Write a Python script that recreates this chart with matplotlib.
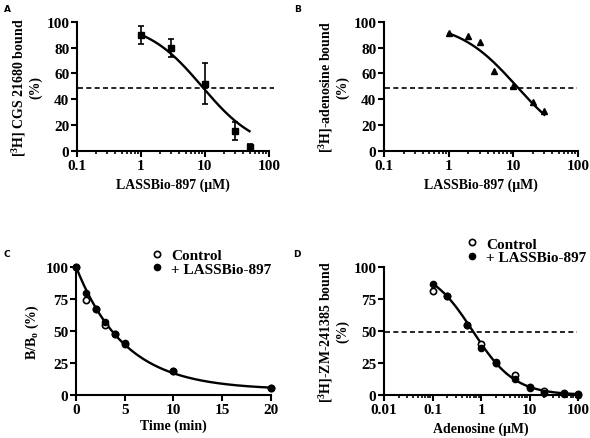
import numpy as np
import matplotlib.pyplot as plt

plt.rcParams['font.family'] = 'Liberation Serif'
plt.rcParams['font.weight'] = 'bold'
plt.rcParams['axes.labelweight'] = 'bold'
plt.rcParams['mathtext.fontset'] = 'custom'
plt.rcParams['mathtext.rm'] = 'Liberation Serif:bold'
plt.rcParams['mathtext.bf'] = 'Liberation Serif:bold'
plt.rcParams['mathtext.it'] = 'Liberation Serif:bold'

# Panel A: [3H] CGS 21680 displacement
a_conc = [1, 3, 10, 30, 50]
a_bound = [90, 80, 52, 15.5, 3]
a_err = [7, 7, 16, 7, 2]
a_ic50, a_hill = 9.0, 1.0

# Panel B: [3H]-adenosine displacement
b_conc = [1, 2, 3, 5, 10, 20, 30]
b_bound = [91, 89, 84, 62, 50, 38, 31]
b_ic50, b_hill = 11.2, 0.96

# Panel C: dissociation kinetics
c_time = [0, 1, 2, 3, 4, 5, 10, 20]
c_control = [100, 74, 67, 55, 47.5, 40, 19, 5.5]
c_lassbio = [100, 79.5, 67, 57, 47.5, 40.5, 19, 5.5]
c_plateau, c_k = 4.0, 0.2

# Panel D: adenosine competition for [3H]-ZM-241385
d_conc = [0.1, 0.2, 0.5, 1, 2, 5, 10, 20, 50, 100]
d_control = [81, 77, 55, 40, 25, 16, 6, 3, 1.5, 0.5]
d_lassbio = [87, 77, 55, 37, 25.5, 12.5, 5.5, 1.5, 1, 0]
d_ic50, d_hill = 0.67, 1.0

FS = 11   # ticks and legend
LS = 10   # axis labels

fig = plt.figure(figsize=(5.9, 4.39), dpi=100)
axA = fig.add_axes([0.1305, 0.654, 0.325, 0.294])
axB = fig.add_axes([0.651, 0.654, 0.329, 0.294])
axC = fig.add_axes([0.129, 0.098, 0.330, 0.2915])
axD = fig.add_axes([0.651, 0.098, 0.329, 0.2915])


def style(ax):
    for s in ['top', 'right']:
        ax.spines[s].set_visible(False)
    for s in ['left', 'bottom']:
        ax.spines[s].set_linewidth(1.5)
    ax.tick_params(which='major', direction='out', length=4, width=1.5,
                   labelsize=FS, pad=1.5)
    ax.tick_params(which='minor', direction='out', length=2.5, width=1.2)


def logistic(x, ic50, hill):
    return 100 / (1 + (x / ic50) ** hill)


# A
xs = np.logspace(np.log10(a_conc[0]), np.log10(a_conc[-1]), 200)
axA.plot(xs, logistic(xs, a_ic50, a_hill), color='black', lw=1.7)
axA.errorbar(a_conc, a_bound, yerr=a_err, fmt='s', color='black', ms=4.5,
             capsize=2.5, elinewidth=1.2, capthick=1.2, clip_on=False)
axA.plot([0.105, 120], [49, 49], color='black', ls='--', lw=1.2, dashes=(3, 2), clip_on=False)
axA.set_xscale('log')
axA.set_xlim(0.1, 100)
axA.set_ylim(0, 100)
axA.set_yticks([0, 20, 40, 60, 80, 100])
axA.set_xticks([0.1, 1, 10, 100])
axA.set_xticklabels(['0.1', '1', '10', '100'])
axA.set_ylabel('[$^{3}$H] CGS 21680 bound\n(%)', fontsize=LS, labelpad=3, linespacing=1.05)
axA.set_xlabel('LASSBio-897 (μM)', fontsize=LS, labelpad=4)
style(axA)

# B
xs = np.logspace(np.log10(b_conc[0]), np.log10(b_conc[-1]), 200)
axB.plot(xs, logistic(xs, b_ic50, b_hill), color='black', lw=1.7)
axB.plot(b_conc, b_bound, '^', color='black', ms=4.8, clip_on=False)
axB.plot([0.105, 95], [49, 49], color='black', ls='--', lw=1.2, dashes=(3, 2), clip_on=False)
axB.set_xscale('log')
axB.set_xlim(0.1, 100)
axB.set_ylim(0, 100)
axB.set_yticks([0, 20, 40, 60, 80, 100])
axB.set_xticks([0.1, 1, 10, 100])
axB.set_xticklabels(['0.1', '1', '10', '100'])
axB.set_ylabel('[$^{3}$H]-adenosine bound\n(%)', fontsize=LS, labelpad=3, linespacing=1.05)
axB.set_xlabel('LASSBio-897 (μM)', fontsize=LS, labelpad=4)
style(axB)

# C
ts = np.linspace(0, 20, 200)
axC.plot(ts, c_plateau + (100 - c_plateau) * np.exp(-c_k * ts), color='black', lw=1.7)
axC.plot(c_time, c_control, 'o', mfc='white', mec='black', mew=1.2, ms=4.5,
         clip_on=False, label='Control', zorder=3)
axC.plot(c_time, c_lassbio, 'o', color='black', ms=4.5, clip_on=False,
         label='+ LASSBio-897', zorder=3)
axC.set_xlim(0, 20)
axC.set_ylim(0, 100)
axC.set_xticks([0, 5, 10, 15, 20])
axC.set_yticks([0, 25, 50, 75, 100])
axC.set_ylabel('B/B$_\\mathrm{o}$ (%)', fontsize=LS, labelpad=3)
axC.set_xlabel('Time (min)', fontsize=LS, labelpad=2)
axC.legend(loc='upper left', bbox_to_anchor=(0.385, 1.145), frameon=False,
           fontsize=FS, handlelength=0.8, handletextpad=0.5, labelspacing=0.0,
           borderaxespad=0, borderpad=0)
style(axC)

# D
xs = np.logspace(np.log10(d_conc[0]), np.log10(d_conc[-1]), 200)
axD.plot(xs, logistic(xs, d_ic50, d_hill), color='black', lw=1.7)
axD.plot(d_conc, d_control, 'o', mfc='white', mec='black', mew=1.2, ms=4.5,
         clip_on=False, label='Control', zorder=3)
axD.plot(d_conc, d_lassbio, 'o', color='black', ms=4.5, clip_on=False,
         label='+ LASSBio-897', zorder=3)
axD.plot([0.0105, 95], [49, 49], color='black', ls='--', lw=1.2, dashes=(3, 2), clip_on=False)
axD.set_xscale('log')
axD.set_xlim(0.01, 100)
axD.set_ylim(0, 100)
axD.set_yticks([0, 25, 50, 75, 100])
axD.set_xticks([0.01, 0.1, 1, 10, 100])
axD.set_xticklabels(['0.01', '0.1', '1', '10', '100'])
axD.set_ylabel('[$^{3}$H]-ZM-241385 bound\n(%)', fontsize=LS, labelpad=3, linespacing=1.05)
axD.set_xlabel('Adenosine (μM)', fontsize=LS, labelpad=4)
axD.legend(loc='upper left', bbox_to_anchor=(0.423, 1.235), frameon=False,
           fontsize=FS, handlelength=0.8, handletextpad=0.5, labelspacing=0.0,
           borderaxespad=0, borderpad=0)
style(axD)

for lbl, x, y in [('A', 0.006, 0.988), ('B', 0.498, 0.988),
                  ('C', 0.006, 0.43), ('D', 0.496, 0.43)]:
    fig.text(x, y, lbl, family='DejaVu Sans', weight='bold', fontsize=6.5,
             ha='left', va='top')

fig.savefig('out.png', dpi=100)
